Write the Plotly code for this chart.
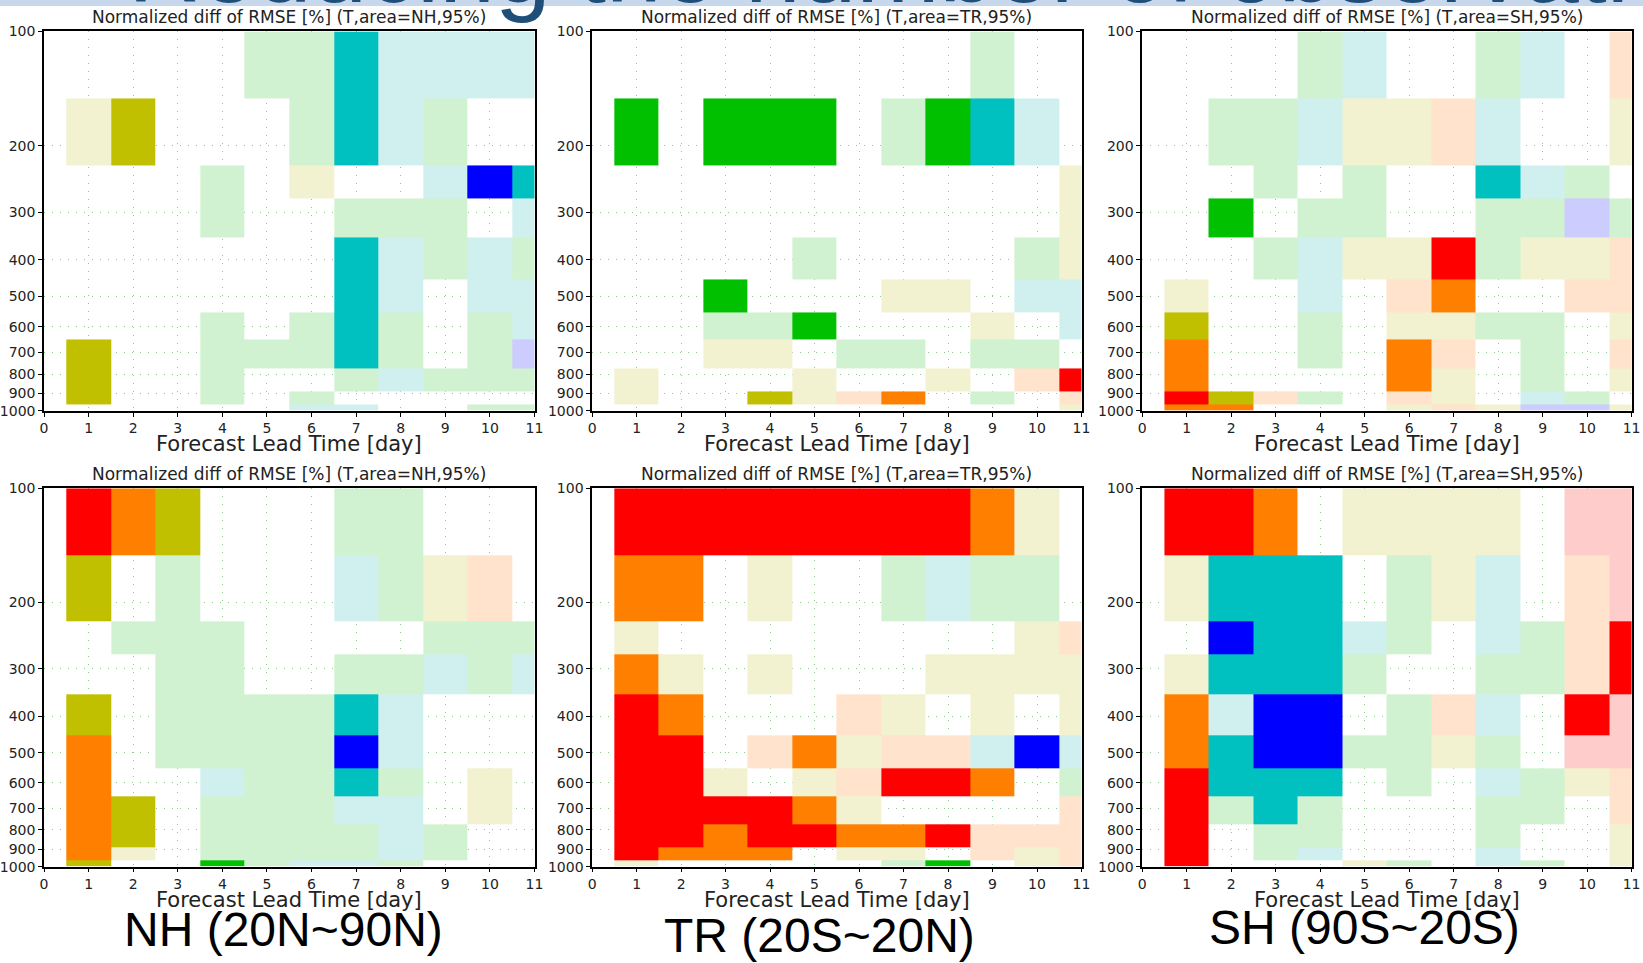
import plotly.graph_objects as go

# ---------------- data ----------------
days = list(range(1, 12))                      # forecast lead time columns [day]
levels = [100, 200, 250, 300, 400, 500, 600, 700, 850, 925, 1000]   # pressure levels [hPa], top -> bottom
x_ticks = list(range(0, 12))
y_ticks = [100, 200, 300, 400, 500, 600, 700, 800, 900, 1000]

# significance categories of the normalized RMSE difference ('.' = not significant)
category_codes = ['g', 'c', 'y', 'p', 'v', 'k', 'C', 'G', 'O', 'R', 'X', 'B']
category_colors = ['#d0f2d0', '#d0f0f0', '#f2f2d0', '#ffe3cc', '#ccccff', '#ffcccc',
                   '#00c0c0', '#00c000', '#c0c000', '#ff8000', '#ff0000', '#0000ff']

# rows: 100, 200, 250, 300, 400, 500, 600, 700, 850, 925, 1000 hPa ; columns: day 1..11
nh_upper = ["....ggCcccc",
            "yO...gCcg..",
            "...g.y..cBC",
            "...g..ggg.c",
            "......Ccgcg",
            "......Cc.cc",
            "...g.gCg.gc",
            "O..gggCg.gv",
            "O..g..gcggg",
            "O..g.g.....",
            ".....cc..gg"]
tr_upper = ["........g..",
            "G.GGG.gGCc.",
            "..........y",
            "..........y",
            "....g....gy",
            "..G...yy.cc",
            "..ggG...y.c",
            "..yy.gg.gg.",
            "y...y..y.pX",
            "y..OypR.g.p",
            "..........y"]
sh_upper = ["...gc..gc.p",
            ".ggcyypc..y",
            "..g.g..Ccg.",
            ".G.gg..ggvg",
            "..gcyyXgyyp",
            "y..c.pR..pp",
            "O..g.yygg.y",
            "R..g.Rp.g.p",
            "R....Ry.g.y",
            "XOpg.py.cg.",
            "RR...ypyvvy"]
nh_lower = ["XRO...gg...",
            "O.g...cgyp.",
            ".ggg....ggg",
            "..gg..ggcgc",
            "O.ggggCc...",
            "R.ggggBc...",
            "R..cggCg.y.",
            "RO.gggcc.y.",
            "RO.ggggcg..",
            "Ry.ggggcg..",
            "O..Ggccg..."]
tr_lower = ["XXXXXXXXRy.",
            "RR.y..gcgg.",
            "y........yp",
            "Ry.y...yyyy",
            "XR...py.y.y",
            "XX.pRyppcBc",
            "XXy.ypXXR.g",
            "XXXXRy....p",
            "XXRXXRRXppp",
            "XRRR.yy.pyp",
            "y.....gG.yp"]
sh_lower = ["XXR.yyyy.kk",
            "yCCC.gyc.pk",
            ".BCCcg.cgpX",
            "yCCCg..ggpX",
            "RcBB.gpc.Xk",
            "RCBBggyg.kk",
            "XCCC.g.cgyp",
            "XgCg...gg.p",
            "X.gg...g..y",
            "X.gc...c..y",
            "X...yg.cg.y"]

panel_title = "Normalized diff of RMSE [%] (T,area={},95%)"
panel_areas = ["NH", "TR", "SH", "NH", "TR", "SH"]
region_labels = ["NH (20N~90N)", "TR (20S~20N)", "SH (90S~20S)"]
slide_title = "Reducing the number of observations"
x_title = "Forecast Lead Time [day]"
panels = [nh_upper, tr_upper, sh_upper, nh_lower, tr_lower, sh_lower]

# ---------------- layout geometry (pixels) ----------------
W, H = 1643, 963
col_px = [(44.0, 534.5), (592.1, 1081.5), (1142.2, 1631.6)]
row_px = [(31.4, 410.8), (488.3, 866.6)]

def px_x(v):
    return v / W

def px_y(v):
    return 1 - v / H

# cell edges from the grid
day_edges = [days[0] - 0.5] + [(a + b) / 2 for a, b in zip(days[:-1], days[1:])] + [days[-1] + 0.5]
level_edges = [levels[0]] + [(a + b) / 2 for a, b in zip(levels[:-1], levels[1:])] + [levels[-1]]

n = len(category_codes)
colorscale = []
for i, c in enumerate(category_colors):
    colorscale.append([i / n, c])
    colorscale.append([(i + 1) / n, c])

fig = go.Figure()
font_axis = "DejaVu Sans"
grid_col = 'rgba(110,190,110,0.8)'

for k, rows in enumerate(panels):
    z = [[(category_codes.index(ch) if ch != '.' else None) for ch in r] for r in rows]
    ax = '' if k == 0 else str(k + 1)
    fig.add_trace(go.Heatmap(
        z=z, x=day_edges, y=level_edges,
        colorscale=colorscale, zmin=-0.5, zmax=n - 0.5,
        showscale=False, hoverongaps=False,
        xaxis='x' + ax, yaxis='y' + ax))
    c = k % 3
    r = k // 3
    x0, x1 = col_px[c]
    y0, y1 = row_px[r]
    common = dict(ticks='outside', ticklen=4, tickcolor='black', tickwidth=1,
                  showline=True, linecolor='black', linewidth=1.5, mirror=True,
                  showgrid=True, gridcolor=grid_col, griddash='1px,7px', gridwidth=1,
                  zeroline=False, layer='above traces', automargin=False,
                  tickfont=dict(family=font_axis, size=14, color='#222'))
    xa = dict(domain=[px_x(x0), px_x(x1)], anchor='y' + ax, range=[0, 11],
              tickvals=x_ticks, ticktext=[str(t) for t in x_ticks], **common)
    ya = dict(domain=[px_y(y1), px_y(y0)], anchor='x' + ax, type='log', range=[3, 2],
              tickvals=y_ticks, ticktext=[str(t) for t in y_ticks], **common)
    fig.layout['xaxis' + ax] = xa
    fig.layout['yaxis' + ax] = ya

    cx = px_x((x0 + x1) / 2)
    fig.add_annotation(text=panel_title.format(panel_areas[k]), xref='paper', yref='paper',
                       x=cx, y=px_y(y0 - 14.5), xanchor='center', yanchor='middle',
                       showarrow=False, font=dict(family=font_axis, size=17, color='#222'))
    fig.add_annotation(text=x_title, xref='paper', yref='paper',
                       x=cx, y=px_y(y1 + 33), xanchor='center', yanchor='middle',
                       showarrow=False, font=dict(family=font_axis, size=21, color='#222'))

label_cx = [283, 819, 1364]
label_cy = [929, 935, 927]
for lbl, cx, cy in zip(region_labels, label_cx, label_cy):
    fig.add_annotation(text=lbl, xref='paper', yref='paper', x=px_x(cx), y=px_y(cy),
                       xanchor='center', yanchor='middle', showarrow=False,
                       font=dict(family='Liberation Sans', size=48, color='black'))

# slide title band (partially cut at the top)
fig.add_shape(type='rect', xref='paper', yref='paper', x0=0, x1=1, y0=px_y(6), y1=1,
              fillcolor='#c7d7ec', line_width=0, layer='below')
fig.add_annotation(text=slide_title, xref='paper', yref='paper', x=px_x(126), y=px_y(25),
                   xanchor='left', yanchor='bottom', showarrow=False,
                   font=dict(family='Liberation Sans', size=100, color='#1f4e79'))

fig.update_layout(width=W, height=H, margin=dict(l=0, r=0, t=0, b=0),
                  paper_bgcolor='white', plot_bgcolor='white', showlegend=False)

fig.write_html("out.html", config={'displayModeBar': False},
               post_script="document.body.style.margin='0';document.body.style.overflow='hidden';")
